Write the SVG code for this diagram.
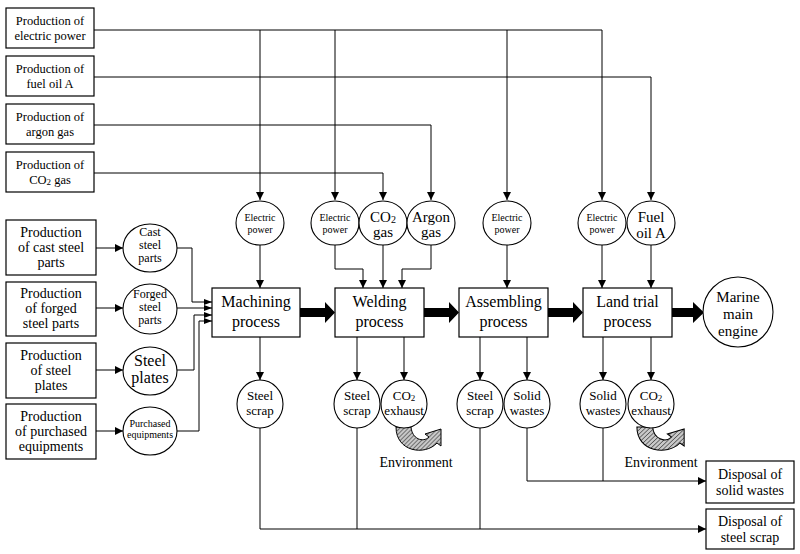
<svg xmlns="http://www.w3.org/2000/svg" width="800" height="554" viewBox="0 0 800 554">
<defs>
<style>
.box{fill:#fff;stroke:#000;stroke-width:1.2}
.cir{fill:#fff;stroke:#000;stroke-width:1.1}
.ln{fill:none;stroke:#000;stroke-width:1}
.thick{fill:#000}
text{font-family:"Liberation Serif","Times New Roman",serif;fill:#000;text-anchor:middle}
.t12{font-size:12.5px}
.t14{font-size:14px}
.t13{font-size:13px}
.t12c{font-size:12px}
.t16{font-size:16px}
.t15{font-size:15px}
.t10{font-size:10px}
.env{fill:url(#hatch);stroke:#000;stroke-width:1}
</style>
<marker id="ah" markerWidth="8" markerHeight="8" refX="8" refY="4" orient="auto" markerUnits="userSpaceOnUse"><path d="M0,0 L8,4 L0,8 z" fill="#000"/></marker>
<marker id="ah2" markerWidth="8" markerHeight="6" refX="8" refY="3" orient="auto" markerUnits="userSpaceOnUse"><path d="M0,0 L8,3 L0,6 z" fill="#000"/></marker>
<pattern id="hatch" width="3" height="3" patternUnits="userSpaceOnUse" patternTransform="rotate(45)"><rect width="3" height="3" fill="#c8c8c8"/><line x1="0" y1="0" x2="0" y2="3" stroke="#333" stroke-width="1.2"/></pattern>
</defs>
<rect width="800" height="554" fill="#fff"/>

<g id="connectors">
<path class="ln" d="M94,30 H602 V200" marker-end="url(#ah)"/>
<path class="ln" d="M260,30 V200" marker-end="url(#ah)"/>
<path class="ln" d="M335,30 V200" marker-end="url(#ah)"/>
<path class="ln" d="M507,30 V200" marker-end="url(#ah)"/>
<path class="ln" d="M94,77 H651 V200" marker-end="url(#ah)"/>
<path class="ln" d="M94,125 H431 V200" marker-end="url(#ah)"/>
<path class="ln" d="M94,173 H383 V200" marker-end="url(#ah)"/>

<path class="ln" d="M260,245 V288" marker-end="url(#ah)"/>
<path class="ln" d="M335,245 V269 H363 V288" marker-end="url(#ah)"/>
<path class="ln" d="M383,245 V288" marker-end="url(#ah)"/>
<path class="ln" d="M431,245 V269 H402 V288" marker-end="url(#ah)"/>
<path class="ln" d="M507,245 V288" marker-end="url(#ah)"/>
<path class="ln" d="M602,245 V288" marker-end="url(#ah)"/>
<path class="ln" d="M651,245 V288" marker-end="url(#ah)"/>

<path class="ln" d="M260,337 V380" marker-end="url(#ah)"/>
<path class="ln" d="M357,337 V380" marker-end="url(#ah)"/>
<path class="ln" d="M404,337 V380" marker-end="url(#ah)"/>
<path class="ln" d="M480,337 V380" marker-end="url(#ah)"/>
<path class="ln" d="M527,337 V380" marker-end="url(#ah)"/>
<path class="ln" d="M603,337 V380" marker-end="url(#ah)"/>
<path class="ln" d="M651,337 V380" marker-end="url(#ah)"/>

<path class="ln" d="M260,428 V529 H706" marker-end="url(#ah)"/>
<path class="ln" d="M357,428 V529"/>
<path class="ln" d="M480,428 V529"/>
<path class="ln" d="M527,428 V481 H706" marker-end="url(#ah)"/>
<path class="ln" d="M603,428 V481"/>

<path class="ln" d="M96,248 H123" marker-end="url(#ah)"/>
<path class="ln" d="M96,308 H123" marker-end="url(#ah)"/>
<path class="ln" d="M96,370 H123" marker-end="url(#ah)"/>
<path class="ln" d="M96,431 H123" marker-end="url(#ah)"/>
<path class="ln" d="M177,248 H192 V302 H212" marker-end="url(#ah2)"/>
<path class="ln" d="M177,308 H212" marker-end="url(#ah2)"/>
<path class="ln" d="M177,370 H194 V315 H212" marker-end="url(#ah2)"/>
<path class="ln" d="M177,431 H199 V321 H212" marker-end="url(#ah2)"/>

<polygon class="thick" points="300,308 325,308 325,302 335,312.5 325,323 325,317 300,317"/>
<polygon class="thick" points="424,308 449,308 449,302 459,312.5 449,323 449,317 424,317"/>
<polygon class="thick" points="548,308 573,308 573,302 583,312.5 573,323 573,317 548,317"/>
<polygon class="thick" points="672,308 693,308 693,302 704,312.5 693,323 693,317 672,317"/>

<path class="env" d="M396,427 C396,452 425,456 437,443 L441,446 L441,429 L425,434 L429,437 C423,443 412,439 411,427 Z"/>
<path class="env" transform="translate(240,0) scale(1.05,1) translate(-18,0)" d="M396,427 C396,452 425,456 437,443 L441,446 L441,429 L425,434 L429,437 C423,443 412,439 411,427 Z"/>
</g>

<g id="prod-electric"><rect class="box" x="6" y="8" width="88" height="40"/><text class="t12" x="50" y="25">Production of</text><text class="t12" x="50" y="40">electric power</text></g>
<g id="prod-fuel"><rect class="box" x="6" y="56" width="88" height="40"/><text class="t12" x="50" y="73">Production of</text><text class="t12" x="50" y="88">fuel oil A</text></g>
<g id="prod-argon"><rect class="box" x="6" y="104" width="88" height="40"/><text class="t12" x="50" y="121">Production of</text><text class="t12" x="50" y="136">argon gas</text></g>
<g id="prod-co2"><rect class="box" x="6" y="152" width="88" height="40"/><text class="t12" x="50" y="169">Production of</text><text class="t12" x="50" y="184">CO<tspan font-size="9" dy="1">2</tspan><tspan dy="-1"> gas</tspan></text></g>

<g id="prod-cast"><rect class="box" x="6" y="220" width="90" height="55"/><text class="t14" x="51" y="237">Production</text><text class="t14" x="51" y="252">of cast steel</text><text class="t14" x="51" y="267">parts</text></g>
<g id="prod-forged"><rect class="box" x="6" y="282" width="90" height="54"/><text class="t14" x="51" y="298">Production</text><text class="t14" x="51" y="313">of forged</text><text class="t14" x="51" y="328">steel parts</text></g>
<g id="prod-plates"><rect class="box" x="6" y="343" width="90" height="55"/><text class="t14" x="51" y="360">Production</text><text class="t14" x="51" y="375">of steel</text><text class="t14" x="51" y="390">plates</text></g>
<g id="prod-purchased"><rect class="box" x="6" y="404" width="90" height="55"/><text class="t14" x="51" y="421">Production</text><text class="t14" x="51" y="436">of purchased</text><text class="t14" x="51" y="451">equipments</text></g>

<g id="c-cast"><ellipse class="cir" cx="150" cy="248" rx="27" ry="24"/><text class="t12c" x="150" y="236">Cast</text><text class="t12c" x="150" y="249">steel</text><text class="t12c" x="150" y="262">parts</text></g>
<g id="c-forged"><ellipse class="cir" cx="150" cy="309" rx="27" ry="25"/><text class="t12c" x="150" y="298">Forged</text><text class="t12c" x="150" y="311">steel</text><text class="t12c" x="150" y="324">parts</text></g>
<g id="c-plates"><ellipse class="cir" cx="150" cy="371" rx="27" ry="24"/><text class="t16" x="150" y="366">Steel</text><text class="t16" x="150" y="383">plates</text></g>
<g id="c-purchased"><ellipse class="cir" cx="150" cy="431" rx="27" ry="24"/><text class="t10" x="150" y="427">Purchased</text><text class="t10" x="150" y="438">equipments</text></g>

<g id="c-ep1"><ellipse class="cir" cx="260" cy="223" rx="24" ry="22"/><text class="t10" x="260" y="221">Electric</text><text class="t10" x="260" y="233">power</text></g>
<g id="c-ep2"><ellipse class="cir" cx="335" cy="223" rx="24" ry="22"/><text class="t10" x="335" y="221">Electric</text><text class="t10" x="335" y="233">power</text></g>
<g id="c-co2gas"><ellipse class="cir" cx="383" cy="223" rx="24" ry="22"/><text class="t15" x="383" y="222">CO<tspan font-size="10" dy="1">2</tspan></text><text class="t15" x="383" y="237">gas</text></g>
<g id="c-argon"><ellipse class="cir" cx="431" cy="223" rx="24" ry="22"/><text class="t15" x="431" y="222">Argon</text><text class="t15" x="431" y="237">gas</text></g>
<g id="c-ep3"><ellipse class="cir" cx="507" cy="223" rx="24" ry="22"/><text class="t10" x="507" y="221">Electric</text><text class="t10" x="507" y="233">power</text></g>
<g id="c-ep4"><ellipse class="cir" cx="602" cy="223" rx="24" ry="22"/><text class="t10" x="602" y="221">Electric</text><text class="t10" x="602" y="233">power</text></g>
<g id="c-fuel"><ellipse class="cir" cx="651" cy="223" rx="24" ry="22"/><text class="t15" x="651" y="222">Fuel</text><text class="t15" x="651" y="238">oil A</text></g>

<g id="p-machining"><rect class="box" x="212" y="288" width="88" height="49"/><text class="t16" x="256" y="307">Machining</text><text class="t16" x="256" y="327">process</text></g>
<g id="p-welding"><rect class="box" x="335" y="288" width="89" height="49"/><text class="t16" x="379.5" y="307">Welding</text><text class="t16" x="379.5" y="327">process</text></g>
<g id="p-assembling"><rect class="box" x="459" y="288" width="89" height="49"/><text class="t16" x="503.5" y="307">Assembling</text><text class="t16" x="503.5" y="327">process</text></g>
<g id="p-landtrial"><rect class="box" x="583" y="288" width="89" height="49"/><text class="t16" x="627.5" y="307">Land trial</text><text class="t16" x="627.5" y="327">process</text></g>
<g id="c-marine"><circle class="cir" cx="738" cy="312" r="35"/><text class="t15" x="738" y="302">Marine</text><text class="t15" x="738" y="319">main</text><text class="t15" x="738" y="336">engine</text></g>

<g id="c-scrap1"><ellipse class="cir" cx="260" cy="404" rx="23" ry="24"/><text class="t13" x="260" y="400">Steel</text><text class="t13" x="260" y="415">scrap</text></g>
<g id="c-scrap2"><ellipse class="cir" cx="357" cy="404" rx="23" ry="24"/><text class="t13" x="357" y="400">Steel</text><text class="t13" x="357" y="415">scrap</text></g>
<g id="c-co2ex1"><ellipse class="cir" cx="404" cy="404" rx="23" ry="24"/><text class="t13" x="404" y="400">CO<tspan font-size="9" dy="1">2</tspan></text><text class="t13" x="404" y="415">exhaust</text></g>
<g id="c-scrap3"><ellipse class="cir" cx="480" cy="404" rx="23" ry="24"/><text class="t13" x="480" y="400">Steel</text><text class="t13" x="480" y="415">scrap</text></g>
<g id="c-solid1"><ellipse class="cir" cx="527" cy="404" rx="23" ry="24"/><text class="t13" x="527" y="400">Solid</text><text class="t13" x="527" y="415">wastes</text></g>
<g id="c-solid2"><ellipse class="cir" cx="603" cy="404" rx="23" ry="24"/><text class="t13" x="603" y="400">Solid</text><text class="t13" x="603" y="415">wastes</text></g>
<g id="c-co2ex2"><ellipse class="cir" cx="651" cy="404" rx="23" ry="24"/><text class="t13" x="651" y="400">CO<tspan font-size="9" dy="1">2</tspan></text><text class="t13" x="651" y="415">exhaust</text></g>

<g id="env1"><text class="t14" x="416" y="467">Environment</text></g>
<g id="env2"><text class="t14" x="661" y="467">Environment</text></g>

<g id="d-solid"><rect class="box" x="706" y="461" width="88" height="42"/><text class="t14" x="750" y="479">Disposal of</text><text class="t14" x="750" y="495">solid wastes</text></g>
<g id="d-scrap"><rect class="box" x="706" y="509" width="88" height="40"/><text class="t14" x="750" y="526">Disposal of</text><text class="t14" x="750" y="542">steel scrap</text></g>
</svg>
